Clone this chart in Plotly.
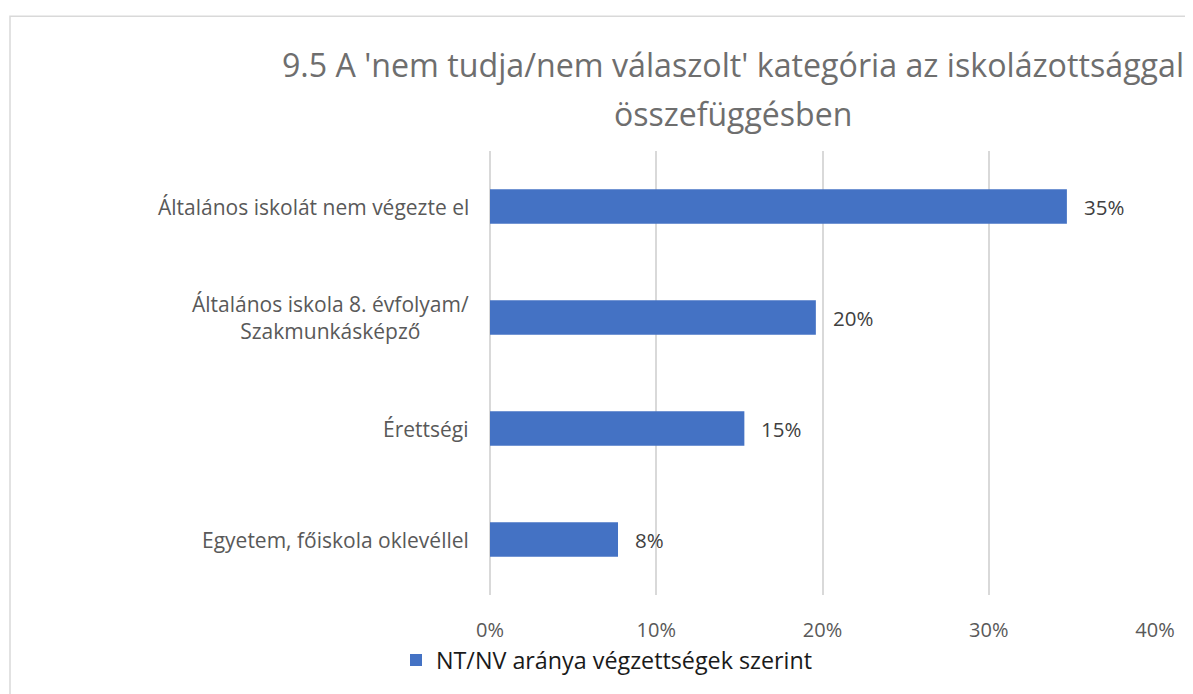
import plotly.graph_objects as go

categories = [
    "Általános iskolát nem végezte el",
    "Általános iskola 8. évfolyam/<br>Szakmunkásképző",
    "Érettségi",
    "Egyetem, főiskola oklevéllel",
]
values = [0.347, 0.196, 0.153, 0.077]
series_name = "NT/NV aránya végzettségek szerint"
x_ticks = [0, 0.1, 0.2, 0.3, 0.4]
x_tick_labels = ["0%", "10%", "20%", "30%", "40%"]
title_line1 = "9.5 A 'nem tudja/nem válaszolt' kategória az iskolázottsággal"
title_line2 = "összefüggésben"

OFF = 8  # browser body margin
W, H = 1193 - OFF, 694 - OFF
L, T = 490 - OFF, 151 - OFF
R = W - (1155 - OFF)
B = H - (599 - OFF)
pw, ph = W - L - R, H - T - B


def px_x(x):
    return (x - OFF - L) / pw


def px_y(y):
    return (H - B - (y - OFF)) / ph


FONT = "Open Sans"
BLUE = "#4472C4"
GRID = "#D9D9D9"
TITLE_C = "#6E6E6E"

fig = go.Figure()
fig.add_trace(go.Bar(
    y=categories, x=values, orientation="h", name=series_name,
    marker=dict(color=BLUE, line=dict(width=0)),
    showlegend=True, hoverinfo="x+y",
))

annotations = []
for c in categories:
    annotations.append(dict(
        x=0, y=c, xref="paper", yref="y", text=c, showarrow=False,
        xanchor="right", yanchor="middle", align="center", xshift=-19,
        font=dict(family=FONT, size=21, color="#595959"),
    ))
for c, v in zip(categories, values):
    annotations.append(dict(
        x=v, y=c, xref="x", yref="y", text=f"{v:.0%}", showarrow=False,
        xanchor="left", yanchor="middle", xshift=15,
        font=dict(family=FONT, size=20.5, color="#404040"),
    ))
annotations.append(dict(
    x=px_x(733), y=px_y(113), xref="paper", yref="paper", text=title_line2,
    showarrow=False, xanchor="center", yanchor="middle",
    font=dict(family=FONT, size=32, color=TITLE_C),
))

fig.update_layout(
    width=W, height=H,
    margin=dict(l=L, r=R, t=T, b=B, pad=0),
    paper_bgcolor="white", plot_bgcolor="white",
    title=dict(
        text=title_line1, x=(733 - OFF) / W, xanchor="center", xref="container",
        y=1 - (66 - OFF) / H, yanchor="middle", yref="container",
        font=dict(family=FONT, size=32.2, color=TITLE_C),
    ),
    bargap=0.6875,
    xaxis=dict(
        range=[0, 0.4], tickvals=x_ticks, ticktext=x_tick_labels,
        showgrid=True, gridcolor=GRID, gridwidth=1.5,
        zeroline=True, zerolinecolor=GRID, zerolinewidth=1.5,
        showline=False, ticks="", ticklabelstandoff=21,
        tickfont=dict(family=FONT, size=20, color="#595959"),
        fixedrange=True,
    ),
    yaxis=dict(
        categoryorder="array", categoryarray=categories,
        range=[3.5, -0.5], showticklabels=False, showgrid=False,
        zeroline=False, showline=False, ticks="", fixedrange=True,
    ),
    legend=dict(
        orientation="h", x=px_x(396), xanchor="left",
        y=px_y(665), yanchor="middle",
        font=dict(family=FONT, size=23.3, color="#1A1A1A"),
        bgcolor="rgba(0,0,0,0)",
    ),
    annotations=annotations,
    shapes=[dict(
        type="rect", xref="paper", yref="paper", layer="below",
        x0=px_x(10), x1=2.0, y0=-1.0, y1=px_y(15),
        line=dict(color=GRID, width=1.5), fillcolor="rgba(0,0,0,0)",
    )],
)

fig.write_html("out.html")
